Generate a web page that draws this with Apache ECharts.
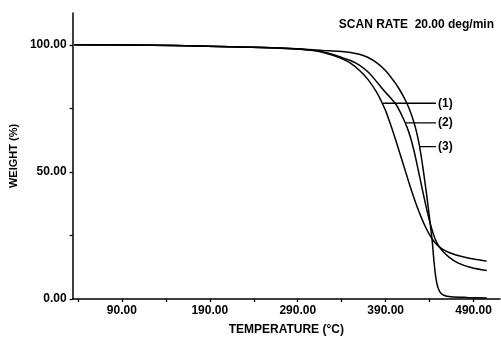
<!DOCTYPE html>
<html>
<head>
<meta charset="utf-8">
<script src="https://cdn.jsdelivr.net/npm/echarts@6/dist/echarts.min.js"></script>
<style>
  html, body { margin: 0; padding: 0; background: #fff; }
  #chart { width: 501px; height: 341px; }
</style>
</head>
<body>
<div id="chart"></div>
<script>
// TGA weight-loss curves, temperature (°C) vs weight (%)
const curve1 = [[36,100],[150,99.7],[250,98.9],[290,98.3],[310,97.6],[320,96.9],[330,95.9],[340,94.6],[350,92.8],[360,90.0],[370,86.3],[380,81.2],[385,77.8],[390,74.0],[395,69.2],[400,64.0],[405,58.5],[410,53.0],[415,47.4],[420,42.0],[425,37.0],[430,32.5],[435,28.5],[440,25.2],[445,22.6],[450,20.8],[455,19.5],[462,18.3],[470,17.3],[480,16.4],[490,15.7],[505,14.9]];
const curve2 = [[36,100],[150,99.7],[250,98.9],[290,98.3],[310,97.7],[320,97.1],[330,96.2],[340,95.0],[350,93.8],[360,92.0],[370,89.3],[380,85.4],[390,81.2],[396,79.0],[402,76.4],[406,73.9],[410,71.0],[414,67.8],[418,63.8],[422,58.6],[426,52.4],[430,45.9],[434,39.4],[438,33.3],[442,28.0],[446,23.8],[450,21.0],[455,18.8],[462,16.5],[472,14.2],[487,12.4],[505,11.2]];
const curve3 = [[36,100],[150,99.7],[250,98.9],[290,98.4],[310,97.9],[320,97.7],[330,97.6],[340,97.4],[350,97.0],[360,96.3],[370,95.0],[380,92.9],[390,89.8],[400,85.4],[405,82.8],[410,79.8],[415,76.3],[420,71.8],[424,67.2],[428,61.0],[432,52.5],[436,42.5],[440,31.5],[443,22.5],[445,14.5],[447,8.5],[449,5.0],[452,2.6],[456,1.5],[464,0.9],[483,0.6],[505,0.4]];

// leader lines from each curve to its tag
const tags = ['(1)', '(2)', '(3)'];
const leader1 = [[387,77.0],[447.2,77.0]];
const leader2 = [[413,69.3],[447.2,69.3]];
const leader3 = [[428.5,59.9],[447.2,59.9]];

const xLabelValues = [90,190,290,390,490];
const xTickValues = [40,90,140,190,240,290,340,390,440,490];
const yLabelValues = [0,50,100];
const yTickValues = [0,25,50,75,100];

const FONT = '"Liberation Sans", Arial, sans-serif';
const chart = echarts.init(document.getElementById('chart'));

function curveSeries(data) {
  return { type: 'line', data: data, smooth: 0.3, symbol: 'none',
    lineStyle: { color: '#000', width: 1.5 }, silent: true };
}
function leaderSeries(data, tag) {
  return { type: 'line', data: data, symbol: 'none',
    lineStyle: { color: '#000', width: 1.3 }, silent: true,
    endLabel: { show: true, formatter: tag, color: '#000', fontFamily: FONT,
      fontWeight: 'bold', fontSize: 12, distance: 2 } };
}

chart.setOption({
  animation: false,
  backgroundColor: '#fff',
  title: {
    text: 'SCAN RATE  20.00 deg/min', right: 2, top: 14,
    textStyle: { fontFamily: FONT, fontWeight: 'bold', fontSize: 12, color: '#000' }
  },
  grid: { left: 68, right: 1, top: 13, bottom: 39 },
  xAxis: {
    type: 'value', min: 34, max: 520,
    name: 'TEMPERATURE (°C)', nameLocation: 'middle', nameGap: 25,
    nameTextStyle: { fontFamily: FONT, fontWeight: 'bold', fontSize: 12, color: '#000' },
    axisLine: { lineStyle: { color: '#000', width: 1.5 } },
    axisTick: { customValues: xTickValues, length: 3, lineStyle: { color: '#000', width: 1.3 } },
    axisLabel: { customValues: xLabelValues, formatter: v => v.toFixed(2), color: '#000',
      fontFamily: FONT, fontWeight: 'bold', fontSize: 12, margin: 6 },
    splitLine: { show: false }
  },
  yAxis: {
    type: 'value', min: 0, max: 112.5,
    name: 'WEIGHT (%)', nameLocation: 'middle', nameGap: 50, nameRotate: 90,
    nameTextStyle: { fontFamily: FONT, fontWeight: 'bold', fontSize: 11, color: '#000' },
    axisLine: { show: true, lineStyle: { color: '#000', width: 1.5 } },
    axisTick: { show: true, customValues: yTickValues, length: 3, lineStyle: { color: '#000', width: 1.3 } },
    axisLabel: { customValues: yLabelValues, formatter: v => v.toFixed(2), color: '#000',
      fontFamily: FONT, fontWeight: 'bold', fontSize: 12, margin: 6 },
    splitLine: { show: false }
  },
  series: [
    curveSeries(curve1), curveSeries(curve2), curveSeries(curve3),
    leaderSeries(leader1, tags[0]), leaderSeries(leader2, tags[1]), leaderSeries(leader3, tags[2])
  ]
});
</script>
</body>
</html>
